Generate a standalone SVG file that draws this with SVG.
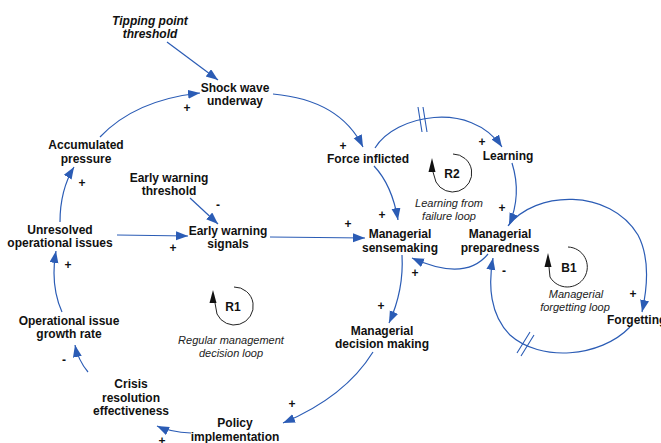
<svg xmlns="http://www.w3.org/2000/svg" width="661" height="443" viewBox="0 0 661 443">
<defs>
<style>
.n{font-family:"Liberation Sans",Arial,sans-serif;font-size:12px;font-weight:bold;fill:#111;text-anchor:middle}
.c{font-family:"Liberation Sans",Arial,sans-serif;font-size:11px;font-style:italic;fill:#222;text-anchor:middle}
.s{font-family:"Liberation Sans",Arial,sans-serif;font-size:12px;font-weight:bold;fill:#111;text-anchor:middle}
.e{fill:none;stroke:#2b5cb5;stroke-width:1.2;marker-end:url(#ah)}
.d{fill:none;stroke:#2b5cb5;stroke-width:1.1}
.l{fill:none;stroke:#222;stroke-width:1}
</style>
<marker id="ah" markerUnits="userSpaceOnUse" markerWidth="13" markerHeight="10" refX="12" refY="4.5" orient="auto">
<path d="M0,0 L12,4.5 L0,9 z" fill="#2b5cb5"/>
</marker>
</defs>
<rect width="661" height="443" fill="#fff"/>
<g id="connectors">
<path class="e" d="M167,42 L218,80"/>
<path class="e" d="M100,137 Q135,100 200,93"/>
<path class="e" d="M273,94 Q340,100 363,147"/>
<path class="e" d="M375,148 C395,115 470,100 502,147"/>
<path class="d" d="M418,107 L422,132 M423,107 L427,132"/>
<path class="e" d="M512,163 Q522,195 509,225"/>
<path class="e" d="M488,254 Q465,282 412,258"/>
<path class="e" d="M374,166 Q392,185 398,220"/>
<path class="e" d="M270,237 L365,238"/>
<path class="e" d="M190,198 L218,224"/>
<path class="e" d="M117,235 L188,236"/>
<path class="e" d="M60,222 Q60,190 74,167"/>
<path class="e" d="M62,312 Q50,285 56,251"/>
<path class="e" d="M88,372 Q78,360 75,345"/>
<path class="e" d="M191,433 Q170,432 157,426"/>
<path class="e" d="M373,352 Q345,397 283,423"/>
<path class="e" d="M402,255 Q404,290 389,323"/>
<path class="e" d="M508,226 C535,190 610,188 638,235 C650,258 648,285 642,312"/>
<path class="e" d="M630,327 C600,358 540,362 510,335 C490,315 488,285 493,258"/>
<path class="d" d="M517,353 L530,332 M521,356 L534,335"/>
</g>
<g id="tipping"><text class="n" font-style="italic" x="150" y="25">Tipping point</text><text class="n" font-style="italic" x="150" y="38">threshold</text></g>
<g id="shock"><text class="n" x="235" y="92">Shock wave</text><text class="n" x="235" y="105">underway</text></g>
<g id="accumulated"><text class="n" x="86" y="149">Accumulated</text><text class="n" x="86" y="163">pressure</text></g>
<g id="ewthreshold"><text class="n" x="169" y="182">Early warning</text><text class="n" x="169" y="195">threshold</text></g>
<g id="unresolved"><text class="n" x="60" y="234">Unresolved</text><text class="n" x="60" y="247">operational issues</text></g>
<g id="ewsignals"><text class="n" x="228" y="235">Early warning</text><text class="n" x="228" y="248">signals</text></g>
<g id="force"><text class="n" x="368" y="163">Force inflicted</text></g>
<g id="learning"><text class="n" x="508" y="160">Learning</text></g>
<g id="sensemaking"><text class="n" x="400" y="238">Managerial</text><text class="n" x="400" y="252">sensemaking</text></g>
<g id="preparedness"><text class="n" x="500" y="238">Managerial</text><text class="n" x="500" y="252">preparedness</text></g>
<g id="forgetting"><text class="n" style="text-anchor:start" x="607" y="324">Forgetting</text></g>
<g id="decision"><text class="n" x="382" y="335">Managerial</text><text class="n" x="382" y="348">decision making</text></g>
<g id="growth"><text class="n" x="69" y="325">Operational issue</text><text class="n" x="69" y="338">growth rate</text></g>
<g id="crisis"><text class="n" x="131" y="388">Crisis</text><text class="n" x="131" y="402">resolution</text><text class="n" x="131" y="415">effectiveness</text></g>
<g id="policy"><text class="n" x="235" y="427">Policy</text><text class="n" x="235" y="441">implementation</text></g>
<g id="loopR1">
<path class="l" d="M234,287 A19,19 0 1 1 217,314 L215,303"/>
<path d="M213,290 L209.5,303 L216.5,303 z" fill="#111"/>
<text class="n" x="233" y="311">R1</text>
<text class="c" x="231" y="344">Regular management</text><text class="c" x="231" y="357">decision loop</text>
</g>
<g id="loopR2">
<path class="l" d="M453,154 A19,19 0 1 1 436,182 L433,172"/>
<path d="M432,158 L428.5,172 L435.5,172 z" fill="#111"/>
<text class="n" x="452" y="178">R2</text>
<text class="c" x="449" y="207">Learning from</text><text class="c" x="449" y="220">failure loop</text>
</g>
<g id="loopB1">
<path class="l" d="M568,247 A20,20 0 1 1 550,277 L549,267"/>
<path d="M548,253 L544.5,267 L551.5,267 z" fill="#111"/>
<text class="n" x="569" y="272">B1</text>
<text class="c" x="576" y="298">Managerial</text><text class="c" x="575" y="311">forgetting loop</text>
</g>
<g id="polarities">
<text class="s" x="187" y="112">+</text>
<text class="s" x="82" y="187">+</text>
<text class="s" x="218" y="209">-</text>
<text class="s" x="173" y="252">+</text>
<text class="s" x="68" y="269">+</text>
<text class="s" x="64" y="364">-</text>
<text class="s" x="162" y="445">+</text>
<text class="s" x="292" y="408">+</text>
<text class="s" x="343" y="150">+</text>
<text class="s" x="482" y="146">+</text>
<text class="s" x="382" y="219">+</text>
<text class="s" x="348" y="228">+</text>
<text class="s" x="502" y="212">+</text>
<text class="s" x="415" y="277">+</text>
<text class="s" x="504" y="275">-</text>
<text class="s" x="381" y="310">+</text>
<text class="s" x="633" y="298">+</text>
</g>
</svg>
